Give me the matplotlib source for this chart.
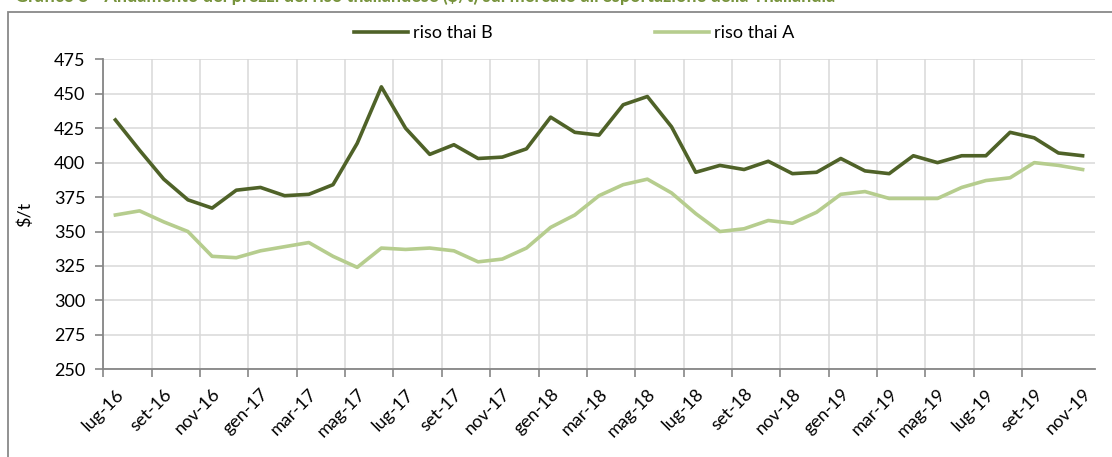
import matplotlib.pyplot as plt
from matplotlib.patches import Rectangle

# months jul 2016 .. nov 2019
months = ['lug-16', 'ago-16', 'set-16', 'ott-16', 'nov-16', 'dic-16',
          'gen-17', 'feb-17', 'mar-17', 'apr-17', 'mag-17', 'giu-17',
          'lug-17', 'ago-17', 'set-17', 'ott-17', 'nov-17', 'dic-17',
          'gen-18', 'feb-18', 'mar-18', 'apr-18', 'mag-18', 'giu-18',
          'lug-18', 'ago-18', 'set-18', 'ott-18', 'nov-18', 'dic-18',
          'gen-19', 'feb-19', 'mar-19', 'apr-19', 'mag-19', 'giu-19',
          'lug-19', 'ago-19', 'set-19', 'ott-19', 'nov-19']

riso_thai_b = [431, 409, 388, 373, 367, 380, 382, 376, 377, 384, 414,
               455, 425, 406, 413, 403, 404, 410, 433, 422, 420, 442,
               448, 426, 393, 398, 395, 401, 392, 393, 403, 394, 392,
               405, 400, 405, 405, 422, 418, 407, 405]

riso_thai_a = [362, 365, 357, 350, 332, 331, 336, 339, 342, 332, 324,
               338, 337, 338, 336, 328, 330, 338, 353, 362, 376, 384,
               388, 378, 363, 350, 352, 358, 356, 364, 377, 379, 374,
               374, 374, 382, 387, 389, 400, 398, 395]

title = "Grafico 5 - Andamento dei prezzi del riso thailandese ($/t) sul mercato all'esportazione della Thailandia"

W, H = 1112, 457
plt.rcParams['font.family'] = ['Lato', 'DejaVu Sans']
FS = 13

fig = plt.figure(figsize=(W / 100, H / 100), dpi=100)

# outer chart frame (cut by the picture edge on right and bottom)
fig.patches.append(Rectangle((8 / W, -0.05), 1.1, 1 - 12.3 / H + 0.05,
                             transform=fig.transFigure, fill=False,
                             edgecolor='#898989', linewidth=1.3))

# title, almost entirely cut off at the top as in the source
fig.text(15 / W, 1 - 1.5 / H, title, color='#77933c', fontsize=13,
         fontweight='bold', va='baseline', ha='left')

ax = fig.add_axes([103.3 / W, 1 - 369.3 / H, 991.4 / W, 310 / H])

x = list(range(len(months)))
ax.plot(x, riso_thai_b, color='#4f6228', linewidth=2.6, label='riso thai B',
        solid_joinstyle='round', zorder=3)
ax.plot(x, riso_thai_a, color='#b6cd8e', linewidth=2.6, label='riso thai A',
        solid_joinstyle='round', zorder=3)

ax.set_xlim(-0.5, len(months) - 0.5)
ax.set_ylim(250, 475)
ax.set_yticks(range(250, 476, 25))

# tick marks on category boundaries every 2 months, labels on categories
ax.set_xticks([i - 0.5 for i in range(0, len(months) - 1, 2)])
ax.set_xticklabels([])
ax.set_xticks(x[::2], minor=True)
ax.set_xticklabels(months[::2], minor=True, rotation=45, ha='right',
                   rotation_mode='anchor', fontsize=FS)
ax.tick_params(axis='x', which='minor', length=0, pad=12)
ax.tick_params(axis='x', which='major', length=6, width=1.2, color='#868686')
ax.tick_params(axis='y', length=6, width=1.2, color='#868686', labelsize=FS,
               pad=7)

ax.grid(True, which='major', color='#d9d9d9', linewidth=1.1)
ax.set_axisbelow(True)
for side in ['top', 'right']:
    ax.spines[side].set_visible(False)
for side in ['left', 'bottom']:
    ax.spines[side].set_color('#868686')
    ax.spines[side].set_linewidth(1.3)

ax.set_ylabel('$/t', fontsize=FS)
ax.yaxis.set_label_coords((33 - 103.3) / 991.4, 0.5)

fig.legend(loc='center', bbox_to_anchor=(574 / W, 1 - 33 / H), ncol=2,
           frameon=False, fontsize=FS, handlelength=3.0, handletextpad=0.25,
           columnspacing=9)

fig.savefig('out.png', dpi=100)
